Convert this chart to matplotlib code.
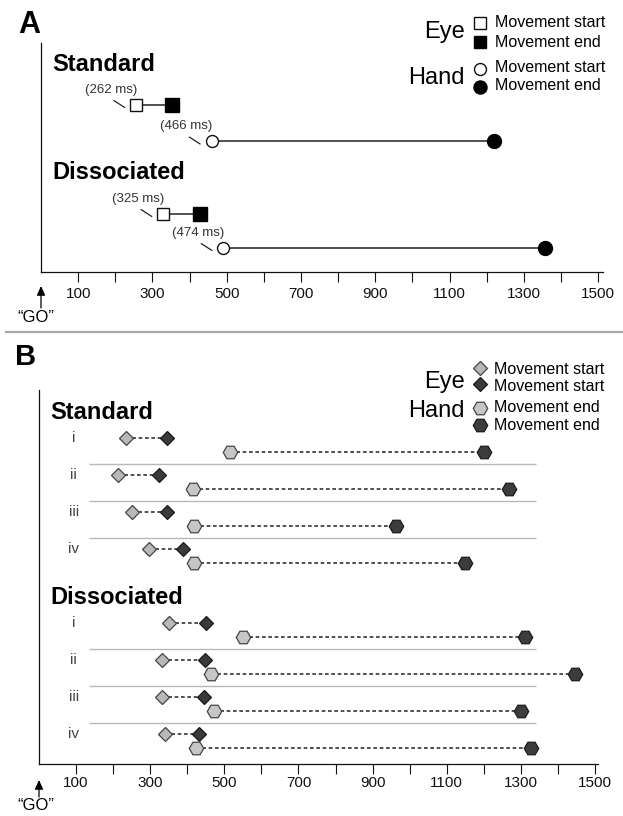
import matplotlib
matplotlib.use("Agg")
import matplotlib.pyplot as plt
from matplotlib.lines import Line2D
from matplotlib.transforms import offset_copy

plt.rcParams["font.family"] = ["Liberation Sans", "DejaVu Sans"]

W, H = 623, 816

# Panel A: mean latencies (ms)
a_conditions = ["Standard", "Dissociated"]
a_eye_start = [256, 329]
a_eye_end = [352, 428]
a_hand_start = [459, 491]
a_hand_end = [1219, 1357]
a_eye_label = ["(262 ms)", "(325 ms)"]
a_hand_label = ["(466 ms)", "(474 ms)"]

# Panel B: single subjects (ms)
b_subjects = ["i", "ii", "iii", "iv"]
b_std_eye_start = [234, 212, 250, 296]
b_std_eye_end = [344, 323, 344, 389]
b_std_hand_start = [516, 415, 417, 418]
b_std_hand_end = [1200, 1268, 962, 1150]
b_dis_eye_start = [352, 332, 331, 339]
b_dis_eye_end = [450, 448, 445, 432]
b_dis_hand_start = [551, 464, 472, 423]
b_dis_hand_end = [1310, 1447, 1300, 1326]

tick_pos = list(range(100, 1600, 100))
tick_labels = [str(t) if t % 200 == 100 else "" for t in tick_pos]


def px_axes(fig, left, top, right, bottom):
    # axes placed in pixel units; y data runs in pixels (downwards)
    ax = fig.add_axes([left / W, 1 - bottom / H, (right - left) / W, (bottom - top) / H])
    ax.set_ylim(bottom, top)
    return ax


def style_axis(ax, xmax, pad):
    ax.set_xlim(0, xmax)
    for s in ("top", "right"):
        ax.spines[s].set_visible(False)
    for s in ("left", "bottom"):
        ax.spines[s].set_linewidth(0.9)
        ax.spines[s].set_color("#111111")
    ax.set_yticks([])
    ax.set_xticks(tick_pos, tick_labels)
    ax.tick_params(axis="x", direction="out", length=7, width=0.8, pad=pad,
                   labelsize=11, colors="#111111")
    ax.set_facecolor("none")


def go_arrow(ax, tip, tail, text_y, text_x):
    ax.annotate("", xy=(0, tip), xytext=(0, tail), annotation_clip=False,
                arrowprops=dict(arrowstyle="-|>,head_length=0.55,head_width=0.25",
                                color="black", lw=0.9, shrinkA=0, shrinkB=0))
    ax.text(text_x, text_y, "\u201cGO\u201d", ha="center", va="center",
            fontsize=12, clip_on=False)


def latency_label(ax, fig, x, y, text):
    ax.annotate(text, xy=(x, y), xytext=(-18, 10.8), textcoords="offset points",
                ha="center", va="center", fontsize=9.5, color="#333333")
    # short diagonal leader between label and marker
    start = offset_copy(ax.transData, fig=fig, x=-16, y=3.2, units="points")
    end = offset_copy(ax.transData, fig=fig, x=-8.2, y=-1.8, units="points")
    ax.annotate("", xy=(x, y), xycoords=end, xytext=(x, y), textcoords=start,
                arrowprops=dict(arrowstyle="-", color="#222222", lw=0.9,
                                shrinkA=0, shrinkB=0))


fig = plt.figure(figsize=(W / 100, H / 100), dpi=100)

# ---------------- Panel A ----------------
axA = px_axes(fig, 41, 43, 602.7, 272)
style_axis(axA, 1512, 3.5)
fig.text(29 / W, 1 - 25 / H, "A", fontsize=22, fontweight="bold", ha="center", va="center")

a_title_y = [65, 173]
a_eye_y = [105, 214]
a_hand_y = [141.5, 248]
for i, cond in enumerate(a_conditions):
    axA.text(30, a_title_y[i], cond, fontsize=17, fontweight="bold", va="center",
             clip_on=False)
    ye, yh = a_eye_y[i], a_hand_y[i]
    axA.plot([a_eye_start[i], a_eye_end[i]], [ye, ye], color="#222222", lw=1.1, zorder=1)
    axA.plot(a_eye_start[i], ye, "s", ms=8.6, mfc="white", mec="#111111", mew=1.0, zorder=3)
    axA.plot(a_eye_end[i], ye, "s", ms=9.4, color="black", zorder=3)
    axA.plot([a_hand_start[i], a_hand_end[i]], [yh, yh], color="#222222", lw=1.1, zorder=1)
    axA.plot(a_hand_start[i], yh, "o", ms=8.6, mfc="white", mec="#111111", mew=1.0, zorder=3)
    axA.plot(a_hand_end[i], yh, "o", ms=10, color="black", zorder=3)
    latency_label(axA, fig, a_eye_start[i], ye, a_eye_label[i])
    latency_label(axA, fig, a_hand_start[i], yh, a_hand_label[i])

# legend A
leg_x, leg_tx, grp_x = 1182, 1222, 1141
axA.plot(leg_x, 23, "s", ms=8.6, mfc="white", mec="#111111", mew=1.0, clip_on=False)
axA.plot(leg_x, 42, "s", ms=9, color="black", clip_on=False)
axA.plot(leg_x, 69, "o", ms=8.6, mfc="white", mec="#111111", mew=1.0, clip_on=False)
axA.plot(leg_x, 87, "o", ms=9.4, color="black", clip_on=False)
for y, t in ((23, "Movement start"), (43, "Movement end"), (68, "Movement start"), (86, "Movement end")):
    axA.text(leg_tx, y, t, fontsize=11.5, va="center", clip_on=False)
axA.text(grp_x, 32, "Eye", fontsize=17, ha="right", va="center", clip_on=False)
axA.text(grp_x, 78, "Hand", fontsize=17, ha="right", va="center", clip_on=False)

go_arrow(axA, 286, 308, 318, -13)

# panel separator
fig.add_artist(Line2D([6 / W, 1], [1 - 332 / H, 1 - 332 / H], color="#a8a8a8", lw=1.6,
                      transform=fig.transFigure))

# ---------------- Panel B ----------------
axB = px_axes(fig, 39, 390, 598, 764)
style_axis(axB, 1508, 1.5)
fig.text(26 / W, 1 - 357 / H, "B", fontsize=21, fontweight="bold", ha="center", va="center")

light_d = dict(marker="D", ms=6.8, mfc="#b8b8b8", mec="#444444", mew=0.9, ls="none", zorder=3)
dark_d = dict(marker="D", ms=6.8, mfc="#3a3a3a", mec="#1a1a1a", mew=0.9, ls="none", zorder=3)
light_h = dict(marker="H", ms=10.4, mfc="#c6c6c6", mec="#444444", mew=0.9, ls="none", zorder=3)
dark_h = dict(marker="H", ms=10.4, mfc="#3c3c3c", mec="#1a1a1a", mew=0.9, ls="none", zorder=3)
dash = dict(color="#333333", lw=1.2, ls=(0, (2.2, 1.6)), zorder=1)

groups = [
    ("Standard", 412, 438, b_std_eye_start, b_std_eye_end, b_std_hand_start, b_std_hand_end),
    ("Dissociated", 597, 623, b_dis_eye_start, b_dis_eye_end, b_dis_hand_start, b_dis_hand_end),
]
row_gap, hand_off, sep_off = 37, 13.5, 25.5
for name, ty, base, es, ee, hs, he in groups:
    axB.text(30, ty, name, fontsize=17, fontweight="bold", va="center", clip_on=False)
    for k, sub in enumerate(b_subjects):
        ye = base + k * row_gap
        yh = ye + hand_off
        axB.text(94, ye, sub, fontsize=11, color="#444444", ha="center", va="center")
        axB.plot([es[k], ee[k]], [ye, ye], **dash)
        axB.plot(es[k], ye, **light_d)
        axB.plot(ee[k], ye, **dark_d)
        axB.plot([hs[k], he[k]], [yh, yh], **dash)
        axB.plot(hs[k], yh, **light_h)
        axB.plot(he[k], yh, **dark_h)
        if k < len(b_subjects) - 1:
            axB.hlines(ye + sep_off, 134, 1342, color="#b8b8b8", lw=1.0, zorder=0)

# legend B
leg_x, leg_tx, grp_x = 1190, 1227, 1149
axB.plot(leg_x, 368, clip_on=False, **light_d)
axB.plot(leg_x, 384, clip_on=False, **dark_d)
axB.plot(leg_x, 408, clip_on=False, **light_h)
axB.plot(leg_x, 425, clip_on=False, **dark_h)
for y, t in ((369, "Movement start"), (386, "Movement start"), (407, "Movement end"), (425, "Movement end")):
    axB.text(leg_tx, y, t, fontsize=11.5, va="center", clip_on=False)
axB.text(grp_x, 382, "Eye", fontsize=17, ha="right", va="center", clip_on=False)
axB.text(grp_x, 411, "Hand", fontsize=17, ha="right", va="center", clip_on=False)

go_arrow(axB, 780, 797, 805, -8)

fig.savefig("out.png", dpi=100)
